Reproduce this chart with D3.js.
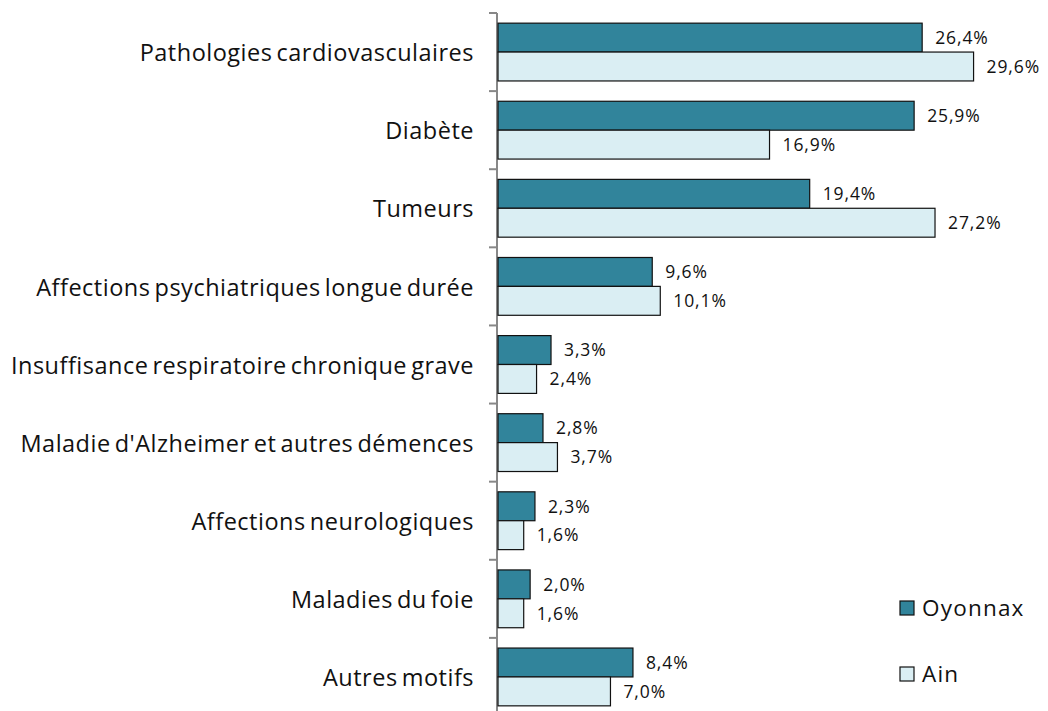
<!DOCTYPE html>
<html lang="fr">
<head>
  <meta charset="UTF-8">
  <title>ALD - Oyonnax / Ain</title>
  <script src="https://d3js.org/d3.v7.min.js"></script>
  <style>
    body { margin: 0; padding: 0; background: #fff; }
    .cat { font: 23.5px "Open Sans", sans-serif; fill: #111; word-spacing: -2.5px; letter-spacing: 0.5px; }
    .val { font: 17.5px "Open Sans", sans-serif; fill: #111; letter-spacing: 0.9px; }
    .leg { font: 22.5px "Open Sans", sans-serif; fill: #111; letter-spacing: 1.2px; }
  </style>
</head>
<body>
  <script>
    const categories = [
      "Pathologies cardiovasculaires",
      "Diabète",
      "Tumeurs",
      "Affections psychiatriques longue durée",
      "Insuffisance respiratoire chronique grave",
      "Maladie d'Alzheimer et autres démences",
      "Affections neurologiques",
      "Maladies du foie",
      "Autres motifs"
    ];
    const oyonnax = [26.4, 25.9, 19.4, 9.6, 3.3, 2.8, 2.3, 2.0, 8.4];
    const ain = [29.6, 16.9, 27.2, 10.1, 2.4, 3.7, 1.6, 1.6, 7.0];
    const seriesNames = ["Oyonnax", "Ain"];
    const seriesColors = ["#31849B", "#DAEEF3"];

    const W = 1048, H = 711;
    const svg = d3.select("body").append("svg").attr("width", W).attr("height", H);

    const x = d3.scaleLinear().domain([0, 30]).range([498, 980]);
    const y = d3.scaleBand().domain(categories).range([13, 716]);
    const step = y.step();
    const barH = step * 0.37, barOff = step * 0.13;

    // axis line and ticks at band boundaries
    const axisG = svg.append("g");
    axisG.append("line")
      .attr("x1", 497).attr("x2", 497).attr("y1", 13).attr("y2", H)
      .attr("stroke", "#888").attr("stroke-width", 2);
    const bounds = categories.map(c => y(c));
    axisG.selectAll("line.tick").data(bounds).join("line")
      .attr("class", "tick")
      .attr("x1", 489).attr("x2", 497)
      .attr("y1", d => d).attr("y2", d => d)
      .attr("stroke", "#888").attr("stroke-width", 2);

    const groups = svg.append("g").selectAll("g").data(categories).join("g")
      .attr("transform", d => `translate(0,${y(d)})`);

    groups.append("text")
      .attr("class", "cat")
      .attr("x", 474)
      .attr("y", step / 2 + 1)
      .attr("dy", "0.35em")
      .attr("text-anchor", "end")
      .text(d => d);

    [oyonnax, ain].forEach((vals, s) => {
      groups.append("rect")
        .attr("x", x(0))
        .attr("y", barOff + s * barH)
        .attr("width", (d, i) => x(vals[i]) - x(0))
        .attr("height", barH)
        .attr("fill", seriesColors[s])
        .attr("stroke", "#111")
        .attr("stroke-width", 1.2);
      groups.append("text")
        .attr("class", "val")
        .attr("x", (d, i) => x(vals[i]) + 13)
        .attr("y", barOff + s * barH + barH / 2)
        .attr("dy", "0.36em")
        .text((d, i) => vals[i].toFixed(1).replace(".", ",") + "%");
    });

    // legend
    const leg = svg.append("g").selectAll("g").data(seriesNames).join("g")
      .attr("transform", (d, i) => `translate(900,${601 + i * 66})`);
    leg.append("rect")
      .attr("width", 14).attr("height", 14)
      .attr("fill", (d, i) => seriesColors[i])
      .attr("stroke", "#111").attr("stroke-width", 1.2);
    leg.append("text")
      .attr("class", "leg")
      .attr("x", 22).attr("y", 7).attr("dy", "0.36em")
      .text(d => d);
  </script>
</body>
</html>
